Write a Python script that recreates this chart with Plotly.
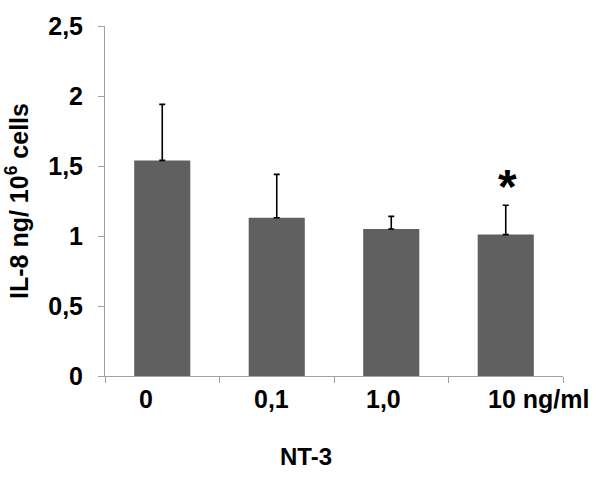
import plotly.graph_objects as go

categories = ["0", "0,1", "1,0", "10 ng/ml"]
means = [1.54, 1.13, 1.05, 1.01]
errors = [0.40, 0.31, 0.09, 0.21]
significance = ["", "", "", "*"]
y_title = "IL-8 ng/ 10<sup>6</sup> cells"
x_title = "NT-3"

FONT = "Liberation Sans, Arial, sans-serif"
label_shifts = [-16, -5, -8, 33]

fig = go.Figure()
fig.add_trace(go.Bar(
    x=list(range(len(categories))),
    y=means,
    marker=dict(color="#606060", line=dict(width=0)),
    error_y=dict(type="data", array=errors, symmetric=False,
                 arrayminus=[0] * len(errors),
                 color="black", thickness=1.6, width=3),
    width=0.49,
    hoverinfo="skip",
))

annotations = []
for i, (c, s) in enumerate(zip(categories, label_shifts)):
    annotations.append(dict(x=i, y=0, xref="x", yref="y", text=f"<b>{c}</b>",
                            showarrow=False, xanchor="center", yanchor="middle",
                            xshift=s, yshift=-23,
                            font=dict(family=FONT, size=25, color="black")))
for i, (m, e, t) in enumerate(zip(means, errors, significance)):
    if t:
        annotations.append(dict(x=i, y=m + e, xref="x", yref="y", text=f"<b>{t}</b>",
                                showarrow=False, xanchor="center", yanchor="bottom",
                                xshift=2, yshift=-10,
                                font=dict(family=FONT, size=48, color="black")))
annotations.append(dict(x=0.439, y=-0.231, xref="paper", yref="paper",
                        text=f"<b>{x_title}</b>", showarrow=False,
                        xanchor="center", yanchor="middle",
                        font=dict(family=FONT, size=24, color="black")))

fig.update_layout(
    width=600, height=480,
    margin=dict(l=105, r=37, t=26, b=104),
    paper_bgcolor="white", plot_bgcolor="white",
    separators=",.",
    showlegend=False,
    annotations=annotations,
    font=dict(family=FONT, size=24, color="black"),
)
fig.update_xaxes(
    range=[-0.5, 3.5], showticklabels=False, automargin=False,
    tickmode="array", tickvals=[-0.5, 0.5, 1.5, 2.5, 3.5],
    ticks="outside", ticklen=6, tickcolor="#a0a0a0", tickwidth=1,
    showline=True, linecolor="#a0a0a0", linewidth=1,
    showgrid=False, zeroline=False,
)
fig.update_yaxes(
    range=[0, 2.5], dtick=0.5, tick0=0, automargin=False,
    ticks="outside", ticklen=6, tickcolor="#a0a0a0", tickwidth=1,
    showline=True, linecolor="#a0a0a0", linewidth=1,
    showgrid=False, zeroline=False,
    tickfont=dict(family=FONT, size=25, color="black"),
    ticklabelstandoff=10,
    title=dict(text=f"<b>{y_title}</b>", standoff=12,
               font=dict(family=FONT, size=25, color="black")),
)
fig.update_yaxes(tickprefix="<b>", ticksuffix="</b>")

fig.write_html("out.html",
               config={"displayModeBar": False},
               post_script="document.body.style.margin='0';document.body.style.overflow='hidden';")
